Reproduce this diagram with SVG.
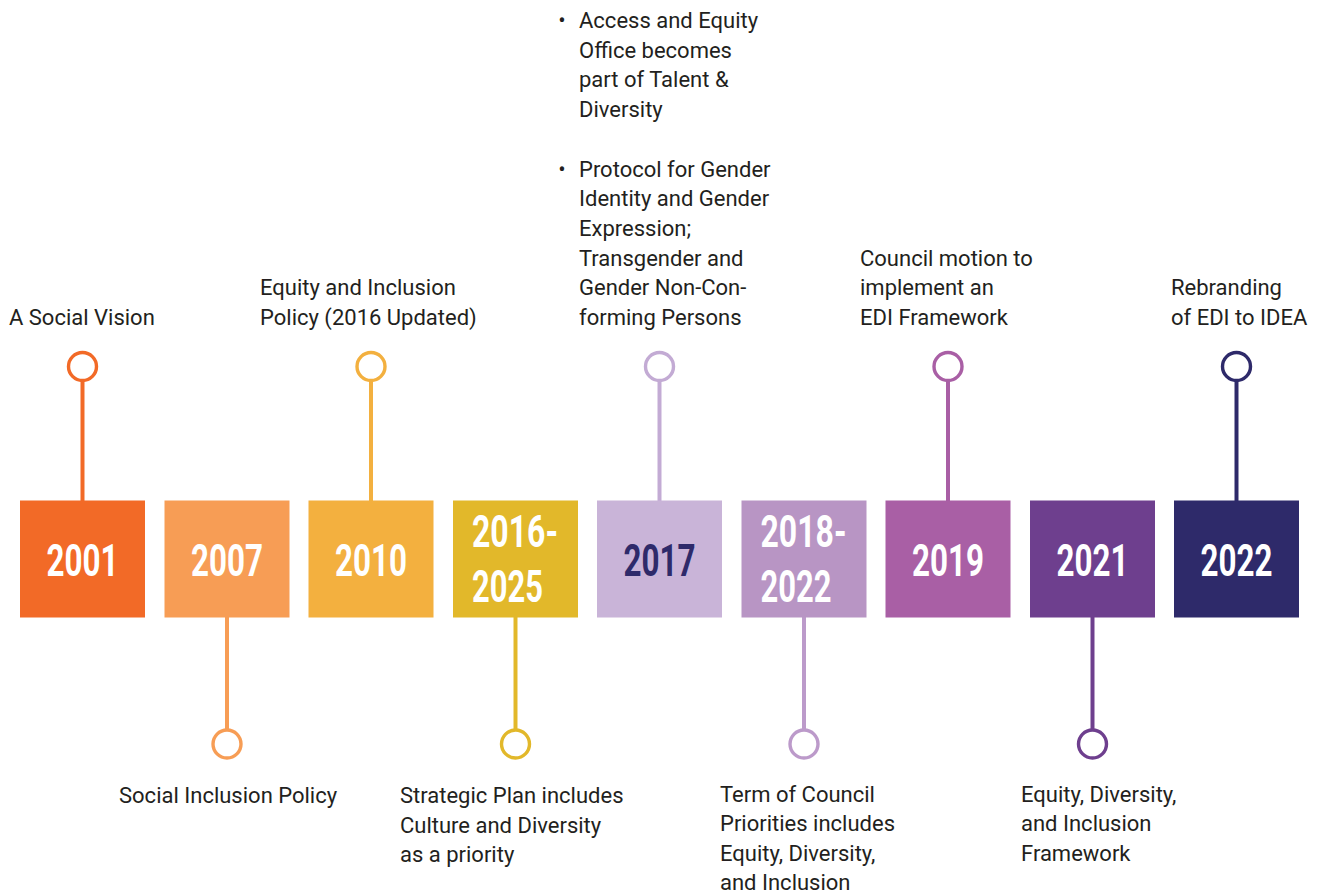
<svg xmlns="http://www.w3.org/2000/svg" width="1320" height="894" viewBox="0 0 1320 894">
  <style>
    .lbl { font-family: Roboto, "Liberation Sans", sans-serif; font-size: 22px; fill: #231F20; }
    .yr { font-family: Roboto, "Liberation Sans", sans-serif; font-weight: 700; font-size: 44px; fill: #FFFFFF; }
    .yr.dark { fill: #2E2A6A; }
    .stem { stroke-width: 4; fill: none; }
    .dot { stroke-width: 3.4; fill: #FFFFFF; }
  </style>
  <rect width="1320" height="894" fill="#FFFFFF"/>

  <!-- connectors: stems and end circles -->
  <g id="connectors">
    <line class="stem" x1="82.5" y1="380" x2="82.5" y2="501" stroke="#F26A27"/>
    <circle class="dot" cx="82.5" cy="366.5" r="14" stroke="#F26A27"/>

    <line class="stem" x1="227" y1="616" x2="227" y2="730" stroke="#F79D55"/>
    <circle class="dot" cx="227" cy="744" r="14" stroke="#F79D55"/>

    <line class="stem" x1="371" y1="380" x2="371" y2="501" stroke="#F3B03F"/>
    <circle class="dot" cx="371" cy="366.5" r="14" stroke="#F3B03F"/>

    <line class="stem" x1="515.5" y1="616" x2="515.5" y2="730" stroke="#E2B82A"/>
    <circle class="dot" cx="515.5" cy="744" r="14" stroke="#E2B82A"/>

    <line class="stem" x1="659.5" y1="380" x2="659.5" y2="501" stroke="#C3ABD4"/>
    <circle class="dot" cx="659.5" cy="366.5" r="14" stroke="#C3ABD4"/>

    <line class="stem" x1="804" y1="616" x2="804" y2="730" stroke="#BC9ACA"/>
    <circle class="dot" cx="804" cy="744" r="14" stroke="#BC9ACA"/>

    <line class="stem" x1="948" y1="380" x2="948" y2="501" stroke="#A95FA5"/>
    <circle class="dot" cx="948" cy="366.5" r="14" stroke="#A95FA5"/>

    <line class="stem" x1="1092.5" y1="616" x2="1092.5" y2="730" stroke="#6E3F8E"/>
    <circle class="dot" cx="1092.5" cy="744" r="14" stroke="#6E3F8E"/>

    <line class="stem" x1="1236.5" y1="380" x2="1236.5" y2="501" stroke="#2E2A6A"/>
    <circle class="dot" cx="1236.5" cy="366.5" r="14" stroke="#2E2A6A"/>
  </g>

  <!-- year blocks -->
  <g id="y2001">
    <rect x="20" y="500.5" width="125" height="117" fill="#F26A27"/>
    <text class="yr" x="82.5" y="575.5" text-anchor="middle" textLength="72" lengthAdjust="spacingAndGlyphs">2001</text>
  </g>
  <g id="y2007">
    <rect x="164.5" y="500.5" width="125" height="117" fill="#F79D55"/>
    <text class="yr" x="227" y="575.5" text-anchor="middle" textLength="72" lengthAdjust="spacingAndGlyphs">2007</text>
  </g>
  <g id="y2010">
    <rect x="308.5" y="500.5" width="125" height="117" fill="#F3B03F"/>
    <text class="yr" x="371" y="575.5" text-anchor="middle" textLength="72" lengthAdjust="spacingAndGlyphs">2010</text>
  </g>
  <g id="y2016">
    <rect x="453" y="500.5" width="125" height="117" fill="#E2B82A"/>
    <text class="yr" x="472" y="546.5" textLength="86" lengthAdjust="spacingAndGlyphs">2016-</text>
    <text class="yr" x="472" y="601.5" textLength="71" lengthAdjust="spacingAndGlyphs">2025</text>
  </g>
  <g id="y2017">
    <rect x="597" y="500.5" width="125" height="117" fill="#C9B4D8"/>
    <text class="yr dark" x="659.5" y="575.5" text-anchor="middle" textLength="72" lengthAdjust="spacingAndGlyphs">2017</text>
  </g>
  <g id="y2018">
    <rect x="741.5" y="500.5" width="125" height="117" fill="#B895C4"/>
    <text class="yr" x="760.5" y="546.5" textLength="86" lengthAdjust="spacingAndGlyphs">2018-</text>
    <text class="yr" x="760.5" y="601.5" textLength="71" lengthAdjust="spacingAndGlyphs">2022</text>
  </g>
  <g id="y2019">
    <rect x="885.5" y="500.5" width="125" height="117" fill="#A95FA5"/>
    <text class="yr" x="948" y="575.5" text-anchor="middle" textLength="72" lengthAdjust="spacingAndGlyphs">2019</text>
  </g>
  <g id="y2021">
    <rect x="1030" y="500.5" width="125" height="117" fill="#6E3F8E"/>
    <text class="yr" x="1092.5" y="575.5" text-anchor="middle" textLength="72" lengthAdjust="spacingAndGlyphs">2021</text>
  </g>
  <g id="y2022">
    <rect x="1174" y="500.5" width="125" height="117" fill="#2E2A6A"/>
    <text class="yr" x="1236.5" y="575.5" text-anchor="middle" textLength="72" lengthAdjust="spacingAndGlyphs">2022</text>
  </g>

  <!-- event labels above the line -->
  <g id="label2001">
    <text class="lbl" x="9" y="325">A Social Vision</text>
  </g>
  <g id="label2010">
    <text class="lbl" x="260" y="295.3">Equity and Inclusion</text>
    <text class="lbl" x="260" y="325">Policy (2016 Updated)</text>
  </g>
  <g id="label2017">
    <text class="lbl" x="562" y="28" text-anchor="middle">•</text>
    <text class="lbl" x="579" y="28">Access and Equity</text>
    <text class="lbl" x="579" y="57.7">Office becomes</text>
    <text class="lbl" x="579" y="87.4">part of Talent &amp;</text>
    <text class="lbl" x="579" y="117.1">Diversity</text>
    <text class="lbl" x="562" y="176.5" text-anchor="middle">•</text>
    <text class="lbl" x="579" y="176.5">Protocol for Gender</text>
    <text class="lbl" x="579" y="206.2">Identity and Gender</text>
    <text class="lbl" x="579" y="235.9">Expression;</text>
    <text class="lbl" x="579" y="265.6">Transgender and</text>
    <text class="lbl" x="579" y="295.3">Gender Non-Con-</text>
    <text class="lbl" x="579" y="325">forming Persons</text>
  </g>
  <g id="label2019">
    <text class="lbl" x="860" y="265.6">Council motion to</text>
    <text class="lbl" x="860" y="295.3">implement an</text>
    <text class="lbl" x="860" y="325">EDI Framework</text>
  </g>
  <g id="label2022">
    <text class="lbl" x="1171" y="295.3">Rebranding</text>
    <text class="lbl" x="1171" y="325">of EDI to IDEA</text>
  </g>

  <!-- event labels below the line -->
  <g id="label2007">
    <text class="lbl" x="119" y="803">Social Inclusion Policy</text>
  </g>
  <g id="label2016">
    <text class="lbl" x="400" y="803">Strategic Plan includes</text>
    <text class="lbl" x="400" y="832.7">Culture and Diversity</text>
    <text class="lbl" x="400" y="862.4">as a priority</text>
  </g>
  <g id="label2018">
    <text class="lbl" x="720" y="801.5">Term of Council</text>
    <text class="lbl" x="720" y="831">Priorities includes</text>
    <text class="lbl" x="720" y="860.5">Equity, Diversity,</text>
    <text class="lbl" x="720" y="890">and Inclusion</text>
  </g>
  <g id="label2021">
    <text class="lbl" x="1021" y="801.5">Equity, Diversity,</text>
    <text class="lbl" x="1021" y="831">and Inclusion</text>
    <text class="lbl" x="1021" y="860.5">Framework</text>
  </g>
</svg>
